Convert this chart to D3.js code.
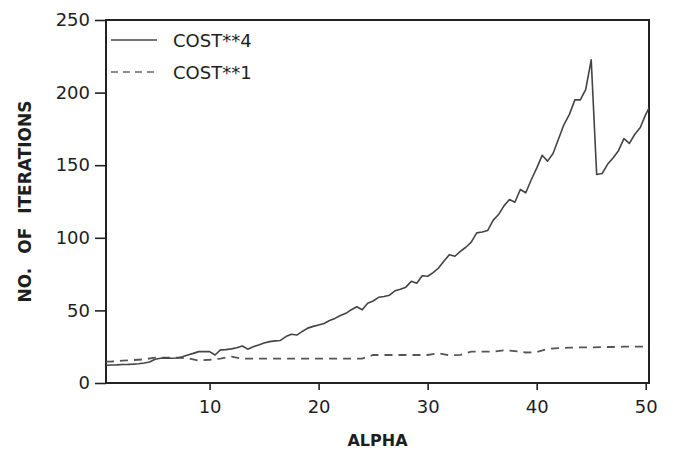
<!DOCTYPE html>
<html>
<head>
<meta charset="utf-8">
<script src="https://cdn.jsdelivr.net/npm/d3@7"></script>
<style>
  body { margin: 0; background: #fff; }
  svg { display: block; }
  .tick text { font-family: "DejaVu Sans", sans-serif; font-size: 18px; fill: #1e1e1e; }
  .tick line { stroke: #222; stroke-width: 1.6; }
</style>
</head>
<body>
<script>
// x grid (ALPHA) for the two series
var alphaCost4 = d3.range(0.5, 50.51, 0.5);
var cost4 = [12.2, 12.4, 12.5, 12.7, 12.8, 13.0, 13.3, 13.8, 14.5, 16.3,
  17.0, 17.0, 17.0, 17.2, 18.0, 19.3, 20.4, 21.6, 21.6, 21.6,
  19.3, 22.8, 23.0, 23.5, 24.3, 25.5, 23.3, 25.0, 26.2, 27.5,
  28.5, 29.0, 29.3, 32.0, 33.6, 33.0, 35.5, 37.8, 39.0, 40.0,
  41.0, 43.0, 44.5, 46.5, 48.0, 50.5, 52.5, 50.4, 55.0, 56.5,
  59.0, 59.6, 60.5, 63.5, 64.5, 66.0, 70.0, 68.7, 73.9, 73.5,
  76.0, 79.2, 84.0, 88.4, 87.3, 90.7, 93.5, 97.0, 103.4, 104.0,
  105.0, 112.0, 116.0, 122.0, 126.4, 124.5, 133.3, 131.0, 140.0, 148.0,
  156.8, 152.8, 158.0, 168.0, 178.0, 185.0, 195.0, 195.0, 202.3, 222.6,
  143.6, 144.3, 150.6, 155.0, 160.0, 168.3, 165.0, 171.3, 176.0, 185.0,
  192.0];

var alphaCost1 = [0.5, 1, 2, 3, 4, 5, 6, 7, 8, 9, 10, 11, 12, 13, 14, 15, 16, 17, 18, 19, 20,
  21, 22, 23, 24, 25, 26, 27, 28, 29, 30, 31, 32, 33, 34, 35, 36, 37, 38, 39, 40,
  41, 42, 43, 44, 45, 46, 47, 48, 49, 50, 51];
var cost1 = [14.7, 14.8, 15.4, 15.8, 16.3, 17.5, 17.5, 17.5, 17.0, 15.5, 16.0,
  16.8, 18.2, 16.8, 16.8, 16.8, 16.8, 16.8, 16.8, 16.8, 16.8,
  16.8, 16.8, 16.8, 16.8, 19.3, 19.3, 19.3, 19.3, 19.3, 19.3,
  20.5, 19.0, 19.3, 21.6, 21.6, 21.6, 22.5, 22.0, 21.0, 21.3,
  23.5, 24.0, 24.3, 24.5, 24.5, 24.8, 24.8, 25.0, 25.0, 25.0, 25.0];

var xTicks = [10, 20, 30, 40, 50];
var yTicks = [0, 50, 100, 150, 200, 250];
var legendLabels = ["COST**4", "COST**1"];

var W = 673, H = 453;
var plotL = 106, plotR = 649, plotT = 20, plotB = 383;

var svg = d3.select("body").append("svg")
  .attr("width", W)
  .attr("height", H);

var x = d3.scaleLinear().domain([0.5, 50.3]).range([plotL, plotR]);
var y = d3.scaleLinear().domain([0, 250]).range([plotB, plotT]);

svg.append("clipPath").attr("id", "plot")
  .append("rect")
  .attr("x", plotL).attr("y", plotT)
  .attr("width", plotR - plotL).attr("height", plotB - plotT);

// axes with outward ticks
var gy = svg.append("g")
  .attr("transform", "translate(" + plotL + ",0)")
  .call(d3.axisLeft(y).tickValues(yTicks).tickSize(11).tickPadding(5));
gy.select(".domain").remove();

var gx = svg.append("g")
  .attr("transform", "translate(0," + plotB + ")")
  .call(d3.axisBottom(x).tickValues(xTicks).tickSize(7).tickPadding(10));
gx.select(".domain").remove();

// frame
svg.append("rect")
  .attr("x", plotL).attr("y", plotT)
  .attr("width", plotR - plotL).attr("height", plotB - plotT)
  .attr("fill", "none")
  .attr("stroke", "#222")
  .attr("stroke-width", 2);

var line = d3.line()
  .x(function (d) { return x(d[0]); })
  .y(function (d) { return y(d[1]); });

svg.append("path")
  .attr("clip-path", "url(#plot)")
  .attr("d", line(d3.zip(alphaCost1, cost1)))
  .attr("fill", "none")
  .attr("stroke", "#555")
  .attr("stroke-width", 1.8)
  .attr("stroke-dasharray", "8,6");

svg.append("path")
  .attr("clip-path", "url(#plot)")
  .attr("d", line(d3.zip(alphaCost4, cost4)))
  .attr("fill", "none")
  .attr("stroke", "#444")
  .attr("stroke-width", 1.6)
  .attr("stroke-linejoin", "round");

// legend
var legend = svg.append("g").attr("transform", "translate(111,40)");
legendLabels.forEach(function (lab, i) {
  var g = legend.append("g").attr("transform", "translate(0," + (i * 32) + ")");
  g.append("line")
    .attr("x1", 0).attr("x2", 46)
    .attr("stroke", i === 0 ? "#444" : "#666")
    .attr("stroke-width", 1.6)
    .attr("stroke-dasharray", i === 0 ? null : "7,5");
  g.append("text")
    .attr("x", 62).attr("y", 7)
    .attr("font-family", "DejaVu Sans, sans-serif")
    .attr("font-size", 18)
    .attr("fill", "#1e1e1e")
    .text(lab);
});

// axis titles
svg.append("text")
  .attr("x", (plotL + plotR) / 2).attr("y", 446)
  .attr("text-anchor", "middle")
  .attr("font-family", "DejaVu Sans, sans-serif")
  .attr("font-weight", "bold")
  .attr("font-size", 16)
  .attr("fill", "#1e1e1e")
  .text("ALPHA");

svg.append("text")
  .attr("transform", "translate(31," + ((plotT + plotB) / 2) + ") rotate(-90)")
  .attr("text-anchor", "middle")
  .attr("font-family", "DejaVu Sans, sans-serif")
  .attr("font-weight", "bold")
  .attr("font-size", 17)
  .attr("word-spacing", 8)
  .attr("fill", "#1e1e1e")
  .text("NO. OF ITERATIONS");
</script>
</body>
</html>
